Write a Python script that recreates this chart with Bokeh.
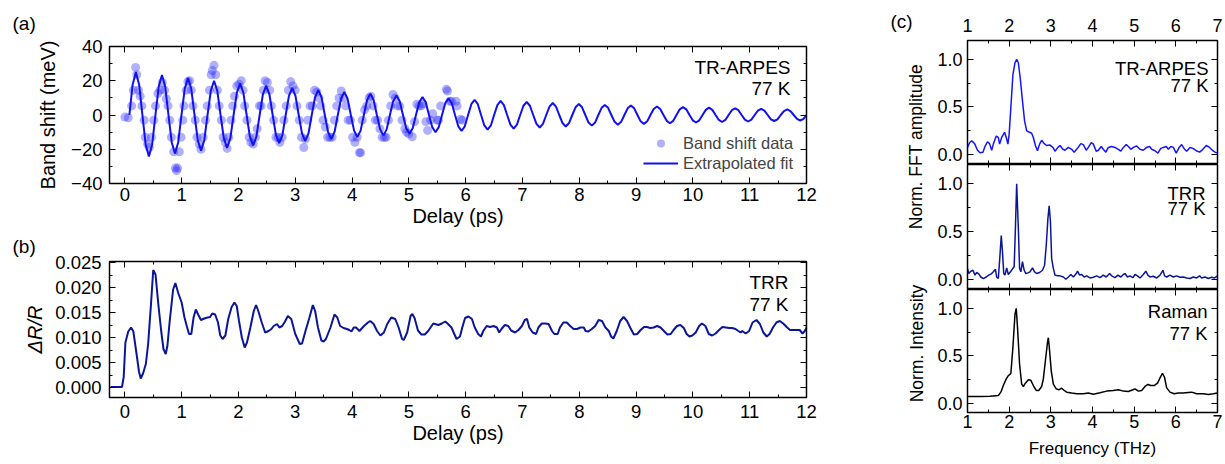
import numpy as np
from bokeh.plotting import figure
from bokeh.layouts import row, column
from bokeh.models import (Range1d, LinearAxis, SingleIntervalTicker, Label, NumeralTickFormatter,
                          CustomJSTickFormatter)
from bokeh.embed import file_html
from bokeh.resources import INLINE

FONT = "Liberation Sans"

# ---------------- panel (a): band shift data (ps, meV) ----------------
scatter_delay = [0.00, 0.06, 0.12, 0.15, 0.19, 0.21, 0.24, 0.27, 0.30, 0.34, 0.36, 0.40, 0.43, 0.47, 0.51, 0.54,
                 0.58, 0.62, 0.66, 0.70, 0.73, 0.76, 0.79, 0.82, 0.86, 0.89, 0.91, 0.93, 0.96, 0.99, 1.02, 1.04,
                 1.08, 1.11, 1.14, 1.17, 1.20, 1.24, 1.27, 1.31, 1.34, 1.38, 1.42, 1.45, 1.49, 1.52, 1.54, 1.57,
                 1.60, 1.63, 1.66, 1.70, 1.73, 1.77, 1.80, 1.83, 1.87, 1.90, 1.93, 1.97, 2.01, 2.05, 2.08, 2.11,
                 2.15, 2.19, 2.22, 2.26, 2.30, 2.33, 2.37, 2.40, 2.44, 2.47, 2.51, 2.55, 2.58, 2.62, 2.66, 2.70,
                 2.73, 2.77, 2.80, 2.84, 2.88, 2.92, 2.96, 3.00, 3.03, 3.07, 3.11, 3.15, 3.18, 3.22, 3.26, 3.30,
                 3.34, 3.38, 3.42, 3.45, 3.49, 3.53, 3.57, 3.61, 3.65, 3.69, 3.73, 3.77, 3.81, 3.85, 3.89, 3.93,
                 3.97, 4.01, 4.05, 4.09, 4.13, 4.15, 4.18, 4.22, 4.26, 4.30, 4.33, 4.37, 4.41, 4.45, 4.49, 4.53,
                 4.57, 4.60, 4.64, 4.68, 4.72, 4.76, 4.80, 4.84, 4.88, 4.93, 4.96, 5.00, 5.06, 5.10, 5.14, 5.18,
                 5.22, 5.25, 5.30, 5.33, 5.38, 5.42, 5.50, 5.52, 5.56, 5.66, 5.68, 5.72, 5.75, 5.83, 5.85, 5.91,
                 5.94]
scatter_shift = [-1.2, -1.6, 5.3, 14.5, 27.8, 23.5, 14.5, 11.0, 5.3, -3.0, -13.0, -17.0, -19.0, -13.0, -3.0, 5.3,
                 12.5, 14.5, 19.0, 14.5, 9.5, 5.3, -3.0, -13.0, -21.5, -31.0, -32.5, -31.0, -21.5, -13.0, -3.0, 5.3,
                 14.5, 19.5, 20.0, 14.5, 5.3, -3.0, -13.0, -17.0, -20.0, -13.0, -3.0, 5.3, 14.5, 23.5, 26.0, 29.0,
                 23.5, 14.5, 5.3, -3.0, -13.0, -16.0, -19.5, -13.0, -3.0, 5.3, 11.0, 17.0, 18.0, 20.0, 14.5, 5.3,
                 -3.0, -13.0, -16.0, -17.0, -13.0, -8.0, 5.3, 5.3, 14.5, 20.0, 19.0, 14.5, 5.3, -3.0, -13.0, -13.0,
                 -16.0, -13.0, -3.0, 5.3, 14.5, 19.5, 17.0, 14.5, 5.3, -3.0, -13.0, -19.0, -14.0, -3.0, 5.3, 5.3,
                 14.5, 13.5, 10.0, 5.3, -3.0, -7.0, -13.0, -13.0, -13.0, -3.0, 5.3, 10.0, 14.0, 10.0, 5.3, -3.0,
                 -3.0, -13.0, -16.0, -13.0, -22.0, -22.0, -3.0, 3.0, 5.3, 10.0, 11.0, 5.3, -3.0, -3.0, -8.0, -13.0,
                 -13.0, -13.0, -3.0, 5.3, 12.0, 10.0, 5.3, 5.3, -3.0, -8.0, -10.0, -11.0, -12.7, -3.9, 6.3, 5.3,
                 5.3, 6.5, -3.9, -9.0, -3.0, 0.8, -3.0, -3.0, 5.3, 15.0, 14.0, 8.0, 8.0, 8.0, 5.3, -2.5,
                 -3.0]

# extrapolated fit, sampled every fit_step ps starting at fit_start
fit_start = 0.08
fit_step = 0.05733
fit_shift = [0, 17.7, 25.0, 17.7, 0, -17.2, -24.3, -17.2, 0, 16.5, 23.3, 16.5, 0, -15.9, -22.5, -15.9,
             0, 15.3, 21.6, 15.3, 0, -14.7, -20.8, -14.7, 0, 14.1, 20.0, 14.1, 0, -13.6, -19.2, -13.6,
             0, 13.1, 18.5, 13.1, 0, -12.6, -17.8, -12.6, 0, 12.1, 17.1, 12.1, 0, -11.6, -16.4, -11.6,
             0, 11.2, 15.8, 11.2, 0, -10.7, -15.2, -10.7, 0, 10.3, 14.6, 10.3, 0, -9.9, -14.0, -9.9,
             0, 9.5, 13.4, 9.5, 0, -9.1, -12.9, -9.1, 0, 8.8, 12.4, 8.8, 0, -8.4, -11.9, -8.4,
             0, 8.1, 11.4, 8.1, 0, -7.8, -11.0, -7.8, 0, 7.4, 10.5, 7.4, 0, -7.1, -10.1, -7.1,
             0, 6.9, 9.7, 6.9, 0, -6.6, -9.3, -6.6, 0, 6.3, 8.9, 6.3, 0, -6.1, -8.6, -6.1,
             0, 5.8, 8.2, 5.8, 0, -5.6, -7.9, -5.6, 0, 5.4, 7.6, 5.4, 0, -5.2, -7.3, -5.2,
             0, 4.9, 7.0, 4.9, 0, -4.7, -6.7, -4.7, 0, 4.5, 6.4, 4.5, 0, -4.4, -6.2, -4.4,
             0, 4.2, 5.9, 4.2, 0, -4.0, -5.7, -4.0, 0, 3.9, 5.5, 3.9, 0, -3.7, -5.2, -3.7,
             0, 3.5, 5.0, 3.5, 0, -3.4, -4.8, -3.4, 0, 3.3, 4.6, 3.3, 0, -3.1, -4.4, -3.1,
             0, 3.0, 4.3, 3.0, 0, -2.9, -4.1, -2.9, 0, 2.8, 3.9, 2.8, 0, -2.7, -3.8, -2.7,
             0, 2.5, 3.6, 2.5, 0, -2.5, -3.5, -2.5, 0, 2.3, 3.3, 2.3, 0, -2.3, -3.2, -2.3,
             0.0]
fit_delay = fit_start + fit_step * np.arange(len(fit_shift))

# ---------------- panel (b): TRR ----------------
trr_delay = [-0.25, -0.05, -0.02, 0.01, 0.06, 0.11, 0.15, 0.21, 0.25, 0.28, 0.32, 0.37, 0.41, 0.46, 0.50, 0.54,
             0.59, 0.64, 0.68, 0.72, 0.75, 0.79, 0.85, 0.89, 0.94, 1.00, 1.05, 1.09, 1.13, 1.17, 1.21, 1.25,
             1.29, 1.34, 1.42, 1.50, 1.54, 1.59, 1.64, 1.68, 1.72, 1.77, 1.82, 1.88, 1.93, 1.97, 2.01, 2.06,
             2.11, 2.15, 2.21, 2.27, 2.31, 2.35, 2.41, 2.47, 2.53, 2.58, 2.62, 2.68, 2.72, 2.77, 2.82, 2.87,
             2.93, 3.00, 3.08, 3.12, 3.18, 3.25, 3.31, 3.35, 3.40, 3.46, 3.50, 3.54, 3.62, 3.69, 3.74, 3.79,
             3.85, 3.91, 3.95, 3.99, 4.03, 4.07, 4.13, 4.21, 4.28, 4.32, 4.38, 4.44, 4.50, 4.56, 4.62, 4.69,
             4.76, 4.82, 4.88, 4.91, 4.97, 5.03, 5.06, 5.10, 5.16, 5.22, 5.28, 5.34, 5.43, 5.52, 5.58, 5.64,
             5.69, 5.75, 5.80, 5.84, 5.90, 5.94, 5.99, 6.05, 6.11, 6.16, 6.22, 6.27, 6.31, 6.37, 6.43, 6.49,
             6.55, 6.59, 6.63, 6.69, 6.75, 6.80, 6.87, 6.93, 6.99, 7.04, 7.08, 7.12, 7.18, 7.24, 7.28, 7.34,
             7.40, 7.46, 7.52, 7.56, 7.62, 7.66, 7.72, 7.78, 7.84, 7.90, 7.96, 8.02, 8.08, 8.11, 8.16, 8.22,
             8.28, 8.34, 8.40, 8.46, 8.52, 8.56, 8.60, 8.66, 8.72, 8.78, 8.84, 8.90, 8.96, 9.02, 9.08, 9.14,
             9.19, 9.25, 9.31, 9.37, 9.43, 9.49, 9.55, 9.61, 9.66, 9.72, 9.78, 9.84, 9.89, 9.94, 9.99, 10.05,
             10.11, 10.16, 10.22, 10.28, 10.34, 10.40, 10.46, 10.52, 10.58, 10.64, 10.69, 10.75, 10.80, 10.84,
             10.87, 10.93, 10.99, 11.05, 11.12, 11.18, 11.24, 11.30, 11.35, 11.41, 11.47, 11.53, 11.59, 11.65,
             11.71, 11.76, 11.82, 11.88, 11.93, 11.97, 12.02]
trr_value = [0.0001, 0.0001, 0.0021, 0.0090, 0.0112, 0.0120, 0.0112, 0.0064, 0.0031, 0.0018, 0.0028, 0.0047,
             0.0087, 0.0166, 0.0235, 0.0226, 0.0166, 0.0113, 0.0077, 0.0067, 0.0084, 0.0133, 0.0196, 0.0209,
             0.0189, 0.0170, 0.0140, 0.0123, 0.0107, 0.0107, 0.0140, 0.0156, 0.0146, 0.0135, 0.0139, 0.0141,
             0.0148, 0.0146, 0.0130, 0.0104, 0.0097, 0.0104, 0.0137, 0.0161, 0.0170, 0.0163, 0.0133, 0.0100,
             0.0080, 0.0090, 0.0120, 0.0153, 0.0165, 0.0153, 0.0130, 0.0110, 0.0113, 0.0117, 0.0123, 0.0127,
             0.0120, 0.0123, 0.0132, 0.0143, 0.0137, 0.0107, 0.0087, 0.0088, 0.0113, 0.0140, 0.0165, 0.0153,
             0.0120, 0.0094, 0.0092, 0.0097, 0.0120, 0.0146, 0.0140, 0.0123, 0.0119, 0.0117, 0.0115, 0.0112,
             0.0120, 0.0120, 0.0113, 0.0123, 0.0130, 0.0133, 0.0127, 0.0113, 0.0104, 0.0110, 0.0127, 0.0140,
             0.0137, 0.0120, 0.0097, 0.0095, 0.0110, 0.0143, 0.0147, 0.0139, 0.0114, 0.0106, 0.0106, 0.0113,
             0.0128, 0.0125, 0.0128, 0.0132, 0.0127, 0.0120, 0.0107, 0.0097, 0.0102, 0.0120, 0.0139, 0.0142,
             0.0137, 0.0120, 0.0107, 0.0102, 0.0113, 0.0123, 0.0121, 0.0123, 0.0120, 0.0110, 0.0117, 0.0125,
             0.0123, 0.0114, 0.0110, 0.0115, 0.0123, 0.0135, 0.0137, 0.0120, 0.0110, 0.0107, 0.0120, 0.0128,
             0.0128, 0.0127, 0.0113, 0.0107, 0.0107, 0.0120, 0.0130, 0.0130, 0.0123, 0.0117, 0.0117, 0.0120,
             0.0120, 0.0113, 0.0112, 0.0117, 0.0123, 0.0135, 0.0133, 0.0120, 0.0113, 0.0102, 0.0098, 0.0113,
             0.0133, 0.0141, 0.0133, 0.0119, 0.0106, 0.0107, 0.0115, 0.0121, 0.0121, 0.0119, 0.0120, 0.0123,
             0.0120, 0.0113, 0.0106, 0.0107, 0.0115, 0.0123, 0.0125, 0.0119, 0.0107, 0.0102, 0.0104, 0.0110,
             0.0123, 0.0128, 0.0123, 0.0107, 0.0104, 0.0108, 0.0115, 0.0121, 0.0120, 0.0119, 0.0119, 0.0117,
             0.0113, 0.0110, 0.0113, 0.0108, 0.0113, 0.0130, 0.0135, 0.0127, 0.0110, 0.0102, 0.0107, 0.0120,
             0.0130, 0.0133, 0.0128, 0.0121, 0.0115, 0.0115, 0.0115, 0.0115, 0.0108, 0.0113, 0.0124]

# ---------------- panel (c): spectra ----------------
arpes_freq = [1.00, 1.05, 1.10, 1.17, 1.24, 1.30, 1.37, 1.42, 1.48, 1.53, 1.58, 1.62, 1.69, 1.74, 1.77, 1.82,
              1.89, 1.93, 1.97, 2.00, 2.04, 2.09, 2.14, 2.18, 2.22, 2.26, 2.32, 2.37, 2.42, 2.49, 2.54, 2.58,
              2.63, 2.68, 2.73, 2.78, 2.84, 2.90, 2.98, 3.05, 3.10, 3.17, 3.22, 3.29, 3.34, 3.42, 3.50, 3.56,
              3.64, 3.72, 3.78, 3.85, 3.90, 3.97, 4.02, 4.09, 4.14, 4.21, 4.26, 4.32, 4.38, 4.46, 4.54, 4.62,
              4.68, 4.74, 4.81, 4.86, 4.92, 4.98, 5.06, 5.14, 5.22, 5.30, 5.37, 5.42, 5.50, 5.57, 5.64, 5.70,
              5.77, 5.82, 5.88, 5.94, 6.01, 6.08, 6.14, 6.21, 6.26, 6.34, 6.41, 6.49, 6.57, 6.65, 6.73, 6.81,
              6.89, 6.94, 7.00]
arpes_fft = [0.07, 0.12, 0.14, 0.11, 0.04, 0.014, 0.02, 0.08, 0.13, 0.11, 0.04, 0.105, 0.19, 0.175, 0.105, 0.175,
             0.23, 0.175, 0.105, 0.21, 0.49, 0.84, 0.965, 1.0, 0.965, 0.825, 0.56, 0.35, 0.245, 0.23, 0.22, 0.175,
             0.09, 0.035, 0.105, 0.145, 0.11, 0.09, 0.095, 0.07, 0.03, 0.07, 0.09, 0.05, 0.04, 0.07, 0.05, 0.02,
             0.06, 0.11, 0.10, 0.04, 0.07, 0.12, 0.105, 0.03, 0.04, 0.08, 0.05, 0.02, 0.07, 0.08, 0.07, 0.05,
             0.03, 0.07, 0.10, 0.08, 0.05, 0.07, 0.085, 0.05, 0.04, 0.07, 0.08, 0.05, 0.035, 0.01, 0.06, 0.07,
             0.08, 0.05, 0.08, 0.07, 0.01, 0.07, 0.10, 0.05, 0.03, 0.07, 0.06, 0.035, 0.02, 0.05, 0.09, 0.07,
             0.035, 0.02, 0.01]

trr_freq = [1.00, 1.03, 1.08, 1.13, 1.18, 1.22, 1.27, 1.32, 1.38, 1.45, 1.51, 1.58, 1.62, 1.67, 1.70, 1.74,
            1.78, 1.81, 1.84, 1.87, 1.90, 1.94, 1.98, 2.04, 2.09, 2.12, 2.15, 2.18, 2.22, 2.25, 2.28, 2.32,
            2.36, 2.40, 2.45, 2.50, 2.56, 2.61, 2.66, 2.73, 2.80, 2.85, 2.89, 2.93, 2.96, 2.99, 3.02, 3.06,
            3.10, 3.16, 3.22, 3.30, 3.36, 3.42, 3.48, 3.54, 3.61, 3.64, 3.69, 3.74, 3.80, 3.86, 3.94, 4.02,
            4.10, 4.18, 4.26, 4.33, 4.41, 4.46, 4.54, 4.61, 4.68, 4.74, 4.78, 4.84, 4.90, 4.97, 5.02, 5.08,
            5.14, 5.22, 5.28, 5.33, 5.38, 5.46, 5.54, 5.62, 5.69, 5.73, 5.78, 5.86, 5.94, 6.02, 6.10, 6.18,
            6.26, 6.34, 6.42, 6.50, 6.57, 6.62, 6.70, 6.78, 6.86, 6.93, 7.00]
trr_fft = [0.12, 0.066, 0.09, 0.10, 0.05, 0.077, 0.063, 0.03, 0.014, 0.03, 0.05, 0.066, 0.084, 0.11, 0.03, 0.014,
           0.26, 0.46, 0.29, 0.066, 0.05, 0.125, 0.056, 0.09, 0.12, 0.136, 0.54, 1.0, 0.54, 0.12, 0.084, 0.19,
           0.10, 0.066, 0.073, 0.084, 0.125, 0.084, 0.066, 0.077, 0.10, 0.153, 0.36, 0.64, 0.77, 0.61, 0.22, 0.12,
           0.05, 0.042, 0.042, 0.03, 0.007, 0.03, 0.056, 0.03, 0.066, 0.09, 0.05, 0.056, 0.03, 0.042, 0.02, 0.028,
           0.042, 0.024, 0.05, 0.03, 0.066, 0.042, 0.024, 0.05, 0.03, 0.056, 0.066, 0.03, 0.042, 0.024, 0.056, 0.042,
           0.02, 0.056, 0.09, 0.05, 0.03, 0.038, 0.02, 0.05, 0.10, 0.042, 0.03, 0.05, 0.03, 0.042, 0.028, 0.03,
           0.02, 0.014, 0.03, 0.02, 0.042, 0.02, 0.03, 0.014, 0.028, 0.02, 0.042]

raman_freq = [1.00, 1.30, 1.54, 1.74, 1.80, 1.86, 1.93, 1.98, 2.04, 2.09, 2.14, 2.17, 2.20, 2.25, 2.30, 2.34,
              2.39, 2.46, 2.52, 2.58, 2.65, 2.71, 2.78, 2.82, 2.87, 2.92, 2.94, 2.96, 3.01, 3.06, 3.13, 3.19,
              3.26, 3.32, 3.38, 3.50, 3.62, 3.78, 3.90, 4.02, 4.18, 4.34, 4.50, 4.62, 4.74, 4.86, 4.97, 5.02,
              5.10, 5.18, 5.26, 5.33, 5.40, 5.48, 5.56, 5.62, 5.68, 5.73, 5.78, 5.86, 5.96, 6.06, 6.18, 6.30,
              6.38, 6.50, 6.66, 6.78, 6.90, 7.00]
raman_int = [0.07, 0.07, 0.073, 0.08, 0.115, 0.185, 0.255, 0.29, 0.31, 0.59, 0.94, 1.0, 0.80, 0.41, 0.20, 0.175,
             0.21, 0.245, 0.24, 0.185, 0.133, 0.133, 0.175, 0.255, 0.45, 0.64, 0.69, 0.605, 0.34, 0.20, 0.15, 0.14,
             0.157, 0.133, 0.115, 0.105, 0.098, 0.098, 0.105, 0.094, 0.108, 0.126, 0.133, 0.14, 0.126, 0.122, 0.14, 0.15,
             0.126, 0.133, 0.175, 0.196, 0.185, 0.185, 0.21, 0.265, 0.315, 0.27, 0.16, 0.115, 0.098, 0.105, 0.105, 0.112,
             0.115, 0.098, 0.098, 0.09, 0.098, 0.105]


# ---------------- helpers ----------------
EMPTY = CustomJSTickFormatter(code="return ''")


def style_axis(ax, labels=True, standoff=5, label_standoff=0, fs="18.5px", lfs="20px"):
    ax.major_tick_in = 6
    ax.major_tick_out = 0
    ax.minor_tick_in = 3
    ax.minor_tick_out = 0
    ax.axis_line_color = "black"
    ax.axis_line_width = 1.2
    ax.major_tick_line_color = "black"
    ax.minor_tick_line_color = "black"
    ax.major_label_text_font = FONT
    ax.major_label_text_color = "black"
    ax.major_label_text_font_size = fs if labels else "0px"
    ax.major_label_standoff = standoff if labels else 0
    if not labels:
        ax.formatter = EMPTY
    ax.axis_label_text_font = FONT
    ax.axis_label_text_font_size = lfs
    ax.axis_label_text_font_style = "normal"
    ax.axis_label_text_color = "black"
    ax.axis_label_standoff = label_standoff


def base_fig(width, height, xr, yr, left, right, top, bottom, x_loc="below"):
    p = figure(width=width, height=height, x_range=Range1d(*xr), y_range=Range1d(*yr),
               output_backend="svg", toolbar_location=None, x_axis_location=x_loc,
               min_border_left=left, min_border_right=right, min_border_top=top, min_border_bottom=bottom)
    p.xgrid.visible = False
    p.ygrid.visible = False
    p.outline_line_color = "black"
    p.outline_line_width = 1.3
    p.background_fill_color = "white"
    p.border_fill_color = "white"
    return p


def blank_fig(width, height):
    p = figure(width=width, height=height, x_range=Range1d(0, 1), y_range=Range1d(0, 1), x_axis_type=None,
               y_axis_type=None, output_backend="svg", toolbar_location=None, min_border_left=0,
               min_border_right=0, min_border_top=0, min_border_bottom=0)
    p.outline_line_color = None
    p.xgrid.visible = False
    p.ygrid.visible = False
    return p


def mirror(p, xt, yt, sides):
    for side in sides:
        ax = LinearAxis(ticker=xt if side in ("above", "below") else yt)
        style_axis(ax, labels=False)
        p.add_layout(ax, side)


def note(p, x, y, text, align="right", angle=0.0, size="19px"):
    p.add_layout(Label(x=x, y=y, x_units="screen", y_units="screen", text=text, text_font=FONT,
                       text_font_size=size, text_align=align, text_baseline="middle",
                       text_color="black", angle=angle))


def letter(title, text, offset, standoff):
    title.text = text
    title.align = "left"
    title.vertical_align = "top"
    title.offset = offset
    title.standoff = standoff
    title.text_font = FONT
    title.text_font_size = "19px"
    title.text_font_style = "normal"
    title.text_color = "black"


# ---------------- panel (a) ----------------
pa = base_fig(868, 232, (-0.27, 12), (-40, 40), 109, 62, 46, 49)
xt_a = SingleIntervalTicker(interval=1, num_minor_ticks=2)
yt_a = SingleIntervalTicker(interval=20, num_minor_ticks=2)
pa.xaxis.ticker = xt_a
pa.yaxis.ticker = yt_a
style_axis(pa.xaxis[0], standoff=4, label_standoff=1)
style_axis(pa.yaxis[0], standoff=7, label_standoff=9)
pa.xaxis.axis_label = "Delay (ps)"
pa.yaxis.axis_label = "Band shift (meV)"
mirror(pa, xt_a, yt_a, ["above", "right"])
pa.scatter(scatter_delay, scatter_shift, size=9, fill_color="#2424ff", fill_alpha=0.36, line_color=None,
           legend_label="Band shift data")
pa.line(fit_delay, fit_shift, line_color="#1010f0", line_width=2, legend_label="Extrapolated fit")
lg = pa.legend[0]
lg.location = (534, 10)
lg.background_fill_alpha = 0
lg.border_line_color = None
lg.label_text_font = FONT
lg.label_text_font_size = "16.5px"
lg.glyph_width = 35
lg.glyph_height = 20
lg.label_height = 20
lg.spacing = 0
lg.padding = 0
lg.margin = 0
lg.label_standoff = 5
note(pa, 681, 116, "TR-ARPES")
note(pa, 681, 95, "77 K")
letter(pa.title, "(a)", -97, 22)

# ---------------- panel (b) ----------------
pb = base_fig(868, 232, (-0.27, 12), (-0.002, 0.0252), 109, 62, 28, 67)
xt_b = SingleIntervalTicker(interval=1, num_minor_ticks=2)
yt_b = SingleIntervalTicker(interval=0.005, num_minor_ticks=2)
pb.xaxis.ticker = xt_b
pb.yaxis.ticker = yt_b
pb.yaxis.formatter = NumeralTickFormatter(format="0.000")
style_axis(pb.xaxis[0], standoff=7, label_standoff=1)
style_axis(pb.yaxis[0], standoff=8, label_standoff=6)
pb.xaxis.axis_label = "Delay (ps)"
pb.yaxis.axis_label = "ΔR/R"
pb.yaxis.axis_label_text_font_style = "italic"
mirror(pb, xt_b, yt_b, ["above", "right"])
pb.line(trr_delay, trr_value, line_color="#0b1598", line_width=2)
note(pb, 679, 115, "TRR")
note(pb, 679, 93, "77 K")
letter(pb.title, "(b)", -97, 6)

# ---------------- panel (c) ----------------
xt_c = SingleIntervalTicker(interval=1, num_minor_ticks=2)
yt_c = SingleIntervalTicker(interval=0.5, num_minor_ticks=2)

pc1 = base_fig(295, 164, (1, 7), (-0.1, 1.2), 37, 8, 40, 1, x_loc="above")
pc2 = base_fig(295, 125, (1, 7), (-0.1, 1.2), 37, 8, 0, 0)
pc3 = base_fig(295, 175, (1, 7), (-0.1, 1.2), 37, 8, 0, 52)
for p in (pc1, pc2, pc3):
    p.xaxis.ticker = xt_c
    p.yaxis.ticker = yt_c
    p.yaxis.formatter = NumeralTickFormatter(format="0.0")
    style_axis(p.yaxis[0], standoff=5, fs="18px")
style_axis(pc1.xaxis[0], standoff=9, fs="18px")
style_axis(pc2.xaxis[0], labels=False)
style_axis(pc3.xaxis[0], standoff=2, label_standoff=8, fs="18px", lfs="17px")
pc3.xaxis.axis_label = "Frequency (THz)"
mirror(pc1, xt_c, yt_c, ["below", "right"])
mirror(pc2, xt_c, yt_c, ["above", "right"])
mirror(pc3, xt_c, yt_c, ["above", "right"])

pc1.line(arpes_freq, arpes_fft, line_color="#1414ff", line_width=1.5)
pc2.line(trr_freq, trr_fft, line_color="#0b1598", line_width=1.5)
pc3.line(raman_freq, raman_int, line_color="black", line_width=1.5)
note(pc1, 241, 95, "TR-ARPES", size="18.5px")
note(pc1, 241, 78, "77 K", size="18.5px")
note(pc2, 238, 96, "TRR", size="18.5px")
note(pc2, 238, 81, "77 K", size="18.5px")
note(pc3, 240, 101, "Raman", size="18.5px")
note(pc3, 240, 79, "77 K", size="18.5px")

# strip holding the shared y labels of panel (c)
plab = blank_fig(62, 464)
note(plab, 47.5, 318, "Norm. FFT amplitude", align="center", angle=np.pi / 2, size="17.5px")
note(plab, 48, 121, "Norm. Intensity", align="center", angle=np.pi / 2, size="17.5px")
note(plab, 33, 443, "(c)", align="center")

layout = row(column(pa, pb), plab, column(pc1, pc2, pc3))
open("out.html", "w").write(file_html(layout, INLINE))
